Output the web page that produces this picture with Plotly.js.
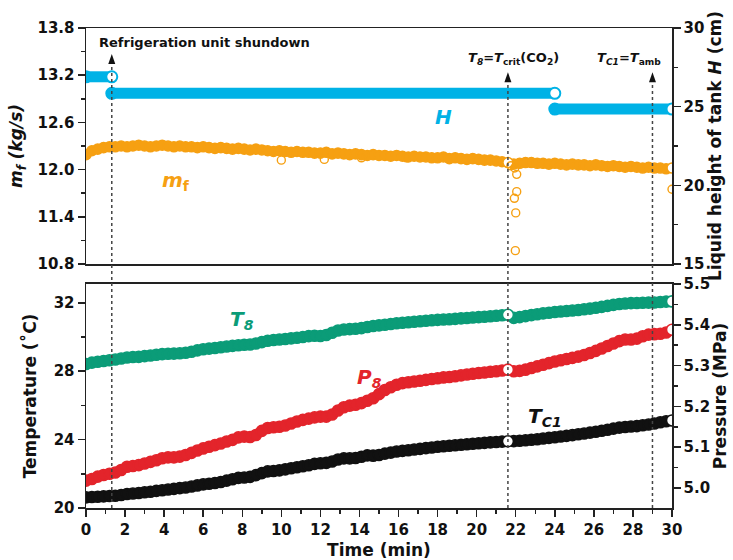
<!DOCTYPE html>
<html>
<head>
<meta charset="utf-8">
<script src="https://cdn.plot.ly/plotly-3.0.1.min.js"></script>
<style>html,body{margin:0;padding:0;background:#fff;}#chart{width:733px;height:560px;}</style>
</head>
<body>
<div id="chart"></div>
<script>
// ---------- DATA ----------
// time samples (min), before and after the data break at ~21.6 min
const tA = [0,0.3,0.6,0.9,1.2,1.5,1.8,2.1,2.4,2.7,3,3.3,3.6,3.9,4.2,4.5,4.8,5.1,5.4,5.7,6,6.3,6.6,6.9,7.2,7.5,7.8,8.1,8.4,8.7,9,9.3,9.6,9.9,10.2,10.5,10.8,11.1,11.4,11.7,12,12.3,12.6,12.9,13.2,13.5,13.8,14.1,14.4,14.7,15,15.3,15.6,15.9,16.2,16.5,16.8,17.1,17.4,17.7,18,18.3,18.6,18.9,19.2,19.5,19.8,20.1,20.4,20.7,21,21.3,21.6];
const tB = [21.9,22.2,22.5,22.8,23.1,23.4,23.7,24,24.3,24.6,24.9,25.2,25.5,25.8,26.1,26.4,26.7,27,27.3,27.6,27.9,28.2,28.5,28.8,29.1,29.4,29.7,30];

// mass flow m_f (kg/s)
const mfA = [12.19,12.24,12.26,12.28,12.29,12.29,12.30,12.29,12.30,12.31,12.30,12.29,12.30,12.31,12.30,12.29,12.30,12.29,12.29,12.28,12.29,12.28,12.27,12.28,12.27,12.26,12.27,12.26,12.25,12.26,12.25,12.24,12.23,12.24,12.23,12.22,12.23,12.22,12.22,12.21,12.21,12.22,12.20,12.21,12.20,12.19,12.20,12.19,12.18,12.19,12.18,12.18,12.17,12.18,12.17,12.16,12.17,12.16,12.16,12.15,12.15,12.16,12.14,12.15,12.14,12.13,12.14,12.13,12.12,12.12,12.11,12.10,12.09];
const mfB = [12.07,12.08,12.09,12.09,12.08,12.08,12.07,12.08,12.07,12.06,12.07,12.06,12.06,12.05,12.06,12.05,12.04,12.05,12.04,12.03,12.04,12.03,12.02,12.03,12.02,12.02,12.01,12.02];
// scattered m_f points
const mfOutT = [10.0,12.2,14.1,16.4,21.75,21.95,22.05,22.05,21.93,22.0,21.98,30.0];
const mfOutV = [12.12,12.13,12.15,12.15,12.05,12.02,11.94,11.72,11.635,11.45,10.97,11.75];

// liquid height H (cm): step levels
const hStart = [0, 1.32, 24.0];
const hEnd   = [1.32, 24.0, 30];
const hLevel = [26.9, 25.85, 24.85];

// T8 (°C)
const t8A = [28.42,28.50,28.55,28.60,28.64,28.68,28.74,28.80,28.83,28.84,28.88,28.92,28.96,29.00,29.02,29.03,29.05,29.08,29.14,29.22,29.28,29.32,29.36,29.40,29.44,29.48,29.52,29.55,29.56,29.62,29.70,29.78,29.82,29.85,29.88,29.92,29.96,30.00,30.05,30.07,30.06,30.12,30.25,30.38,30.44,30.46,30.48,30.52,30.58,30.64,30.68,30.72,30.76,30.80,30.83,30.86,30.89,30.92,30.95,30.98,31.00,31.02,31.04,31.06,31.09,31.11,31.14,31.16,31.18,31.21,31.24,31.27,31.30];
const t8B = [31.12,31.16,31.22,31.28,31.33,31.38,31.42,31.46,31.49,31.52,31.55,31.58,31.62,31.66,31.71,31.76,31.82,31.88,31.93,31.96,31.98,31.99,32.00,32.01,32.02,32.05,32.07,32.08];

// TC1 (°C)
const tc1A = [20.62,20.64,20.66,20.68,20.70,20.72,20.76,20.82,20.85,20.88,20.92,20.95,21.00,21.04,21.08,21.12,21.16,21.20,21.26,21.32,21.38,21.42,21.46,21.52,21.60,21.68,21.76,21.78,21.82,21.92,22.04,22.14,22.16,22.20,22.26,22.32,22.38,22.44,22.50,22.58,22.62,22.64,22.72,22.84,22.90,22.90,22.92,23.00,23.08,23.06,23.10,23.18,23.24,23.30,23.34,23.38,23.42,23.46,23.50,23.54,23.58,23.61,23.64,23.67,23.70,23.73,23.76,23.79,23.81,23.84,23.86,23.88,23.90];
const tc1B = [23.91,23.93,23.96,23.99,24.02,24.06,24.10,24.14,24.18,24.22,24.26,24.31,24.36,24.41,24.46,24.52,24.58,24.64,24.70,24.74,24.77,24.79,24.84,24.88,24.94,25.01,25.07,25.12];

// P8 (MPa)
const p8A = [5.018,5.022,5.028,5.032,5.035,5.038,5.044,5.052,5.054,5.056,5.060,5.064,5.068,5.073,5.075,5.075,5.077,5.081,5.086,5.092,5.097,5.101,5.105,5.109,5.114,5.118,5.124,5.126,5.125,5.130,5.140,5.147,5.149,5.150,5.153,5.158,5.163,5.167,5.170,5.173,5.175,5.175,5.180,5.190,5.198,5.202,5.204,5.208,5.214,5.220,5.230,5.240,5.247,5.253,5.257,5.259,5.261,5.263,5.265,5.267,5.269,5.271,5.272,5.274,5.276,5.278,5.280,5.282,5.283,5.285,5.286,5.288,5.290];
const p8B = [5.286,5.287,5.290,5.294,5.298,5.302,5.306,5.310,5.313,5.316,5.319,5.322,5.326,5.331,5.336,5.342,5.348,5.354,5.360,5.364,5.364,5.366,5.372,5.376,5.377,5.378,5.381,5.388];

// event markers (min)
const eventT = [1.32, 21.6, 29.0];
const eventText = ['Refrigeration unit shundown', '<i>T<sub>8</sub></i>=<i>T</i><sub>crit</sub>(CO<sub>2</sub>)', '<i>T<sub>C1</sub></i>=<i>T</i><sub>amb</sub>'];

// ---------- STYLE ----------
const CYAN = '#00b2e6', ORANGE = '#f6a012', GREEN = '#0b9c78', RED = '#e3242b', BLACK = '#111111';
const FONT = 'DejaVu Sans';
const AX = '#222';

function endWhite(arr, col) { return arr.map((_, i) => i === arr.length - 1 ? 'white' : col); }
function band(x, y, col, xa, ya, size) {
  return { x: x, y: y, xaxis: xa, yaxis: ya, type: 'scatter', mode: 'markers', hoverinfo: 'skip', showlegend: false,
    marker: { symbol: 'circle', size: size, color: endWhite(x, col), line: { color: col, width: 1.6 } } };
}

const traces = [];
// top panel: m_f (x2/y)
traces.push(band(tB, mfB, ORANGE, 'x2', 'y', 10));
traces.push(band(tA, mfA, ORANGE, 'x2', 'y', 10));
traces.push({ x: mfOutT, y: mfOutV, xaxis: 'x2', yaxis: 'y', type: 'scatter', mode: 'markers', hoverinfo: 'skip', showlegend: false,
  marker: { symbol: 'circle-open', size: 8, color: ORANGE, line: { width: 1.4 } } });
// H on right axis (x2/y2)
for (let i = 0; i < hLevel.length; i++) {
  traces.push({ x: [hStart[i], hEnd[i]], y: [hLevel[i], hLevel[i]], xaxis: 'x2', yaxis: 'y2', type: 'scatter', mode: 'lines+markers',
    hoverinfo: 'skip', showlegend: false, line: { color: CYAN, width: 11 },
    marker: { symbol: 'circle', size: 11, color: [CYAN, 'white'], line: { color: CYAN, width: 2 } } });
}
// bottom panel
traces.push(band(tB, t8B, GREEN, 'x', 'y3', 11));
traces.push(band(tA, t8A, GREEN, 'x', 'y3', 11));
traces.push(band(tB, tc1B, BLACK, 'x', 'y3', 11));
traces.push(band(tA, tc1A, BLACK, 'x', 'y3', 11));
traces.push(band(tB, p8B, RED, 'x', 'y4', 11));
traces.push(band(tA, p8A, RED, 'x', 'y4', 11));

const tickFont = { family: FONT, size: 15, color: '#111', weight: 'bold' };
const titleFont = { family: FONT, size: 17, color: '#111', weight: 'bold' };

const yTop0 = 0.5083, yBot1 = 0.4667;

const layout = {
  width: 733, height: 560,
  margin: { l: 86, r: 61, t: 28, b: 52 },
  paper_bgcolor: 'white', plot_bgcolor: 'white',
  font: { family: FONT, size: 15, color: '#111', weight: 'bold' },
  showlegend: false,
  xaxis: { domain: [0, 1], anchor: 'y3', range: [0, 30], dtick: 2, tick0: 0, ticks: 'outside', ticklen: 7, tickwidth: 1.5, tickcolor: AX,
    minor: { dtick: 1, ticks: 'outside', ticklen: 4, tickwidth: 1.5, tickcolor: AX, showgrid: false },
    showline: true, mirror: true, linecolor: AX, linewidth: 1.5, showgrid: false, zeroline: false, tickfont: tickFont,
    title: { text: 'Time (min)', font: titleFont, standoff: 6 } },
  xaxis2: { domain: [0, 1], anchor: 'y', matches: 'x', range: [0, 30], showticklabels: false, ticks: '',
    showline: true, mirror: true, linecolor: AX, linewidth: 1.5, showgrid: false, zeroline: false },
  yaxis: { domain: [yTop0, 1], anchor: 'x2', range: [10.8, 13.8], tick0: 10.8, dtick: 0.6, tickformat: '.1f',
    ticks: 'outside', ticklen: 7, tickwidth: 1.5, tickcolor: AX,
    minor: { dtick: 0.3, tick0: 10.8, ticks: 'outside', ticklen: 4, tickwidth: 1.5, tickcolor: AX, showgrid: false },
    showline: true, linecolor: AX, linewidth: 1.5, showgrid: false, zeroline: false, tickfont: tickFont,
    title: { text: '<i>m<sub>f</sub> (kg/s)</i>', font: titleFont, standoff: 10 } },
  yaxis2: { domain: [yTop0, 1], anchor: 'x2', overlaying: 'y', side: 'right', range: [15, 30], tick0: 15, dtick: 5,
    ticks: 'outside', ticklen: 7, tickwidth: 1.5, tickcolor: AX,
    minor: { dtick: 2.5, tick0: 15, ticks: 'outside', ticklen: 4, tickwidth: 1.5, tickcolor: AX, showgrid: false },
    showline: true, linecolor: AX, linewidth: 1.5, showgrid: false, zeroline: false, tickfont: tickFont,
    title: { text: 'Liquid height of tank <i>H</i> (cm)', font: titleFont, standoff: 5 } },
  yaxis3: { domain: [0, yBot1], anchor: 'x', range: [20, 33.1], tick0: 20, dtick: 4,
    ticks: 'outside', ticklen: 7, tickwidth: 1.5, tickcolor: AX,
    minor: { dtick: 2, tick0: 20, ticks: 'outside', ticklen: 4, tickwidth: 1.5, tickcolor: AX, showgrid: false },
    showline: true, linecolor: AX, linewidth: 1.5, showgrid: false, zeroline: false, tickfont: tickFont,
    title: { text: 'Temperature (˚C)', font: titleFont, standoff: 12 } },
  yaxis4: { domain: [0, yBot1], anchor: 'x', overlaying: 'y3', side: 'right', range: [4.951, 5.5], tick0: 5.0, dtick: 0.1, tickformat: '.1f',
    ticks: 'outside', ticklen: 7, tickwidth: 1.5, tickcolor: AX,
    minor: { dtick: 0.05, tick0: 5.0, ticks: 'outside', ticklen: 4, tickwidth: 1.5, tickcolor: AX, showgrid: false },
    showline: true, linecolor: AX, linewidth: 1.5, showgrid: false, zeroline: false, tickfont: tickFont,
    title: { text: 'Pressure (MPa)', font: titleFont, standoff: 5 } },
  shapes: [],
  annotations: []
};

// event dotted lines, arrowheads and labels
const tipY = [0.9458, 0.908, 0.908];
for (let i = 0; i < eventT.length; i++) {
  layout.shapes.push({ type: 'line', xref: 'x', yref: 'paper', x0: eventT[i], x1: eventT[i], y0: 0, y1: tipY[i] - 0.01,
    line: { color: '#444', width: 1.5, dash: 'dot' }, layer: 'above' });
  layout.shapes.push({ type: 'path', xref: 'x', yref: 'paper', xsizemode: 'pixel', ysizemode: 'pixel',
    xanchor: eventT[i], yanchor: tipY[i], path: 'M-3.5,-10L3.5,-10L0,0Z',
    fillcolor: '#111', line: { width: 0 }, layer: 'above' });
}
layout.annotations.push({ xref: 'paper', yref: 'paper', x: 0.0188, y: 0.9688, xanchor: 'left', yanchor: 'middle', showarrow: false,
  text: eventText[0], font: { family: FONT, size: 13, color: '#111', weight: 'bold' } });
layout.annotations.push({ xref: 'x', yref: 'paper', x: 21.86, y: 0.9375, xanchor: 'center', yanchor: 'middle', showarrow: false,
  text: eventText[1], font: { family: FONT, size: 13, color: '#111', weight: 'bold' } });
layout.annotations.push({ xref: 'x', yref: 'paper', x: 27.8, y: 0.9375, xanchor: 'center', yanchor: 'middle', showarrow: false,
  text: eventText[2], font: { family: FONT, size: 13, color: '#111', weight: 'bold' } });

// series labels
const lblFont = (c) => ({ family: FONT, size: 20, color: c, weight: 'bold' });
layout.annotations.push({ xref: 'x2', yref: 'y', x: 18.3, y: 12.67, text: '<i>H</i>', showarrow: false, font: lblFont(CYAN) });
layout.annotations.push({ xref: 'x2', yref: 'y', x: 4.6, y: 11.86, text: '<i>m</i><sub>f</sub>', showarrow: false, font: lblFont(ORANGE) });
layout.annotations.push({ xref: 'x', yref: 'y3', x: 8.0, y: 31.0, text: '<i>T<sub>8</sub></i>', showarrow: false, font: lblFont(GREEN) });
layout.annotations.push({ xref: 'x', yref: 'y3', x: 14.5, y: 27.6, text: '<i>P<sub>8</sub></i>', showarrow: false, font: lblFont(RED) });
layout.annotations.push({ xref: 'x', yref: 'y3', x: 23.5, y: 25.3, text: '<i>T<sub>C1</sub></i>', showarrow: false, font: lblFont(BLACK) });

Plotly.newPlot('chart', traces, layout, { staticPlot: true, displayModeBar: false });
</script>
</body>
</html>
